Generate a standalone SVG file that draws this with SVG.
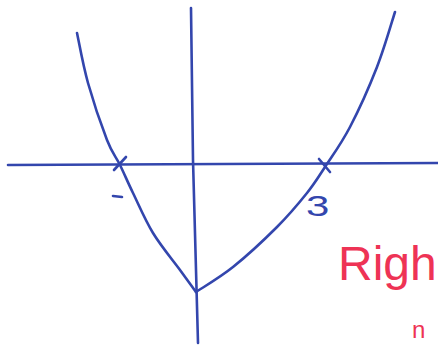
<svg xmlns="http://www.w3.org/2000/svg" width="438" height="347" viewBox="0 0 438 347">
<style>
.ink{fill:none;stroke:#3346ad;stroke-width:2.6;stroke-linecap:round;stroke-linejoin:round}
.blue{fill:#3346ad;font-family:"Liberation Sans",sans-serif}
.red{fill:#ee3355;font-family:"Liberation Sans",sans-serif}
</style>
<rect width="438" height="347" fill="#ffffff"/>
<g id="axes">
<path class="ink" d="M8,165 L438,163"/>
<path class="ink" d="M191,8 L193,160 L198,343"/>
</g>
<g id="curve">
<path class="ink" d="M77,33 C78.8,41.3 83,65.2 88,83 C93,100.8 101.7,126.3 107,140 C112.3,153.7 115.7,156.2 120,165 C124.3,173.8 127.5,181.7 133,193 C138.5,204.3 145.2,220.2 153,233 C160.8,245.8 172.8,260.2 180,270 C187.2,279.8 193.3,288.3 196,292"/>
<path class="ink" d="M196,292 C202.2,287.8 219.5,277.8 233,267 C246.5,256.2 264.7,239.3 277,227 C289.3,214.7 299,203 307,193 C315,183 317.8,178 325,167 C332.2,156 341.3,143.7 350,127 C358.7,110.3 369.5,86.2 377,67 C384.5,47.8 392,21.2 395,12"/>
</g>
<g id="marks">
<path class="ink" d="M114,170 L126,157"/>
<path class="ink" d="M319,159 L330,172"/>
<path class="ink" d="M113,196 L122,197"/>
</g>
<text class="blue" x="0" y="0" font-size="30" transform="translate(306,216) scale(1.4,1)">3</text>
<text class="red" x="338" y="280" font-size="48">Righ</text>
<text class="red" x="412" y="338" font-size="24">n</text>
</svg>
